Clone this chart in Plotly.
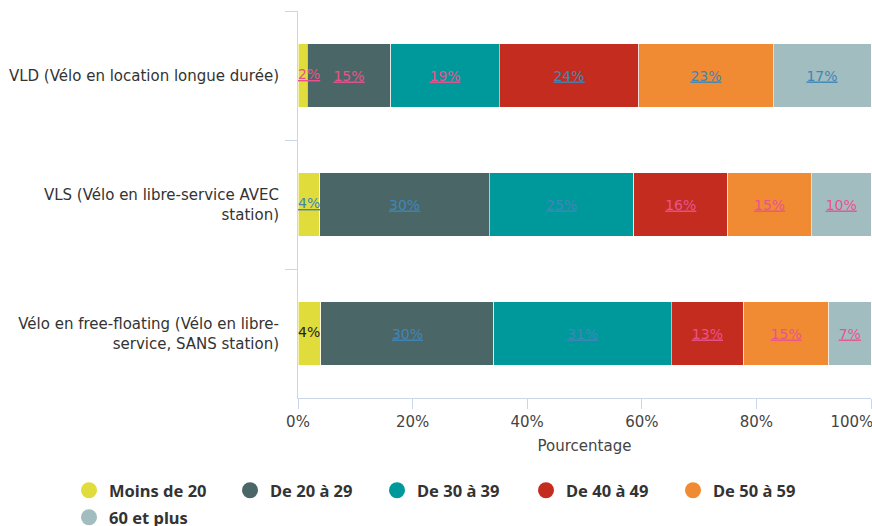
import plotly.graph_objects as go

categories = [
    "VLD (Vélo en location longue durée)",
    "VLS (Vélo en libre-service AVEC<br>station)",
    "Vélo en free-floating (Vélo en libre-<br>service, SANS station)",
]
age_groups = ["Moins de 20", "De 20 à 29", "De 30 à 39", "De 40 à 49", "De 50 à 59", "60 et plus"]

# share of users per age group (VLD, VLS, free-floating), in %
moins_20 = [1.6, 3.8, 4.0]
de_20_29 = [14.6, 29.6, 30.2]
de_30_39 = [18.9, 25.2, 30.9]
de_40_49 = [24.4, 16.4, 12.7]
de_50_59 = [23.4, 14.6, 14.8]
plus_60 = [17.1, 10.4, 7.4]

series = [moins_20, de_20_29, de_30_39, de_40_49, de_50_59, plus_60]

x_ticks = [0, 20, 40, 60, 80, 100]
# last label is pushed left so it stays inside the page
x_ticktext = ["0%", "20%", "40%", "60%", "80%", "100%" + "\u00a0" * 8]

colors = ["#e0dc3c", "#4b6667", "#00999b", "#c42c20", "#f08b33", "#a1bdbf"]

PINK = "#e8538f"
BLUE = "#3f86b9"
BLACK = "#222222"
label_colors = [
    [PINK, BLUE, BLACK],
    [PINK, BLUE, BLUE],
    [PINK, BLUE, BLUE],
    [BLUE, PINK, PINK],
    [BLUE, PINK, PINK],
    [BLUE, PINK, PINK],
]

# legend entry positions (px: left of the entry, top)
legend_pos = [(69, 473), (230, 473), (377, 473), (526, 473), (673, 473), (69, 500)]

W, H = 872, 526
FONT = "DejaVu Sans"
LBL_SIZE = 14
LEGEND_FONT = dict(family="Noto Sans", size=16.5, color="#333333", weight="bold")


def label_texts(vals, cols):
    out = []
    for v, c in zip(vals, cols):
        lbl = f"{v:.0f}%"
        if c != BLACK:
            lbl = f'<span style="text-decoration:underline">{lbl}</span>'
        out.append(lbl)
    return out


fig = go.Figure()

for i, (name, vals) in enumerate(zip(age_groups, series)):
    bar = dict(y=categories, x=vals, orientation="h", name=name,
               marker=dict(color=colors[i], line=dict(color="white", width=0.6)),
               showlegend=False, hoverinfo="x+name")
    if i > 0:
        bar.update(text=label_texts(vals, label_colors[i]), texttemplate="%{text}",
                   textposition="inside", constraintext="none", textangle=0,
                   insidetextanchor="middle",
                   textfont=dict(family=FONT, size=LBL_SIZE, color=label_colors[i]))
    fig.add_trace(go.Bar(**bar))

# labels of the thin first segment sit on top of the next bar
fig.add_trace(go.Scatter(
    x=[0] * len(categories), y=categories, mode="text",
    text=label_texts(moins_20, label_colors[0]), textposition="middle right",
    textfont=dict(family=FONT, size=LBL_SIZE, color=label_colors[0]),
    showlegend=False, hoverinfo="skip", cliponaxis=False))

# round legend markers, one small legend per entry
legends = {}
for i, (name, c) in enumerate(zip(age_groups, colors)):
    key = "legend" if i == 0 else f"legend{i + 1}"
    fig.add_trace(go.Scatter(
        x=[None], y=[None], mode="markers", name=name, legend=key,
        marker=dict(color=c, size=17, symbol="circle")))
    lx, ly = legend_pos[i]
    legends[key] = dict(
        orientation="h", xref="container", yref="container",
        x=lx / W, y=1 - ly / H, xanchor="left", yanchor="top",
        font=LEGEND_FONT, itemwidth=30, bgcolor="rgba(0,0,0,0)")

fig.update_layout(
    barmode="stack",
    bargap=0.51,
    width=W, height=H,
    margin=dict(l=298, r=1, t=11, b=128),
    plot_bgcolor="white", paper_bgcolor="white",
    font=dict(family=FONT, size=15, color="#333333"),
    xaxis=dict(
        range=[0, 100], tickmode="array", tickvals=x_ticks, ticktext=x_ticktext,
        ticklabeloverflow="allow",
        showgrid=False, zeroline=False, showline=True, linecolor="#ccd6eb",
        ticks="outside", ticklen=10, tickcolor="#ccd6eb", automargin=False,
        tickfont=dict(size=15, color="#444444"),
        title=dict(text="Pourcentage", font=dict(size=15, color="#444444"), standoff=10)),
    yaxis=dict(
        type="category", autorange="reversed", automargin=False,
        showline=True, linecolor="#ccd6eb", showgrid=False,
        ticks="outside", tickson="boundaries", ticklen=12, tickcolor="#ccd6eb",
        ticklabelstandoff=15,
        tickfont=dict(size=15, color="#333333")),
    **legends,
)

# drop the default page margin so the figure fills the window exactly
fig.write_html("out.html", config={"displayModeBar": False},
               post_script="document.body.style.margin = '0';")
